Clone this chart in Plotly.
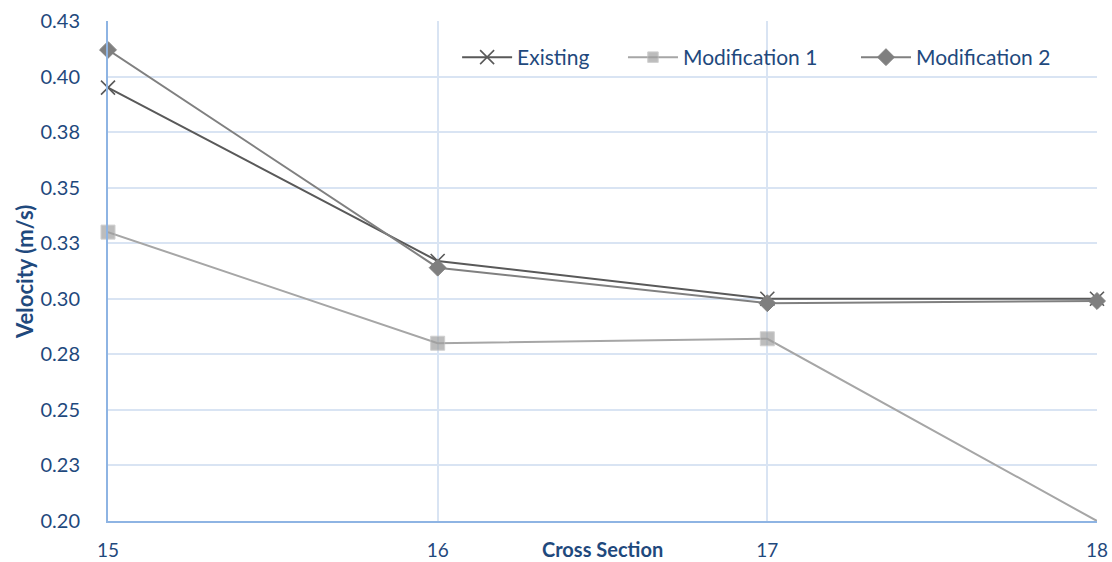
import plotly.graph_objects as go

# Cross sections along the channel
sections = [15, 16, 17, 18]

# Mean velocity (m/s) at each cross section
existing = [0.395, 0.317, 0.300, 0.300]
modification_1 = [0.330, 0.280, 0.282, 0.200]
modification_2 = [0.412, 0.314, 0.298, 0.299]

# Y-axis tick positions and their two-decimal labels
y_ticks = [0.200, 0.225, 0.250, 0.275, 0.300, 0.325, 0.350, 0.375, 0.400, 0.425]
y_tick_labels = ["0.20", "0.23", "0.25", "0.28", "0.30", "0.33", "0.35", "0.38", "0.40", "0.43"]

font_family = "Lato, 'Open Sans', sans-serif"
text_blue = "#1F497D"
axis_blue = "#8EB4E3"
grid_blue = "#D9E4F3"

fig = go.Figure()

fig.add_trace(go.Scatter(
    x=sections, y=existing, name="Existing", mode="lines+markers",
    line=dict(color="#595959", width=2), cliponaxis=False, legend="legend",
    marker=dict(symbol="x-thin", size=14, color="#595959",
                line=dict(color="#595959", width=1.6)),
))
fig.add_trace(go.Scatter(
    x=sections, y=modification_1, name="Modification 1", mode="lines+markers",
    line=dict(color="#A6A6A6", width=2), cliponaxis=False, legend="legend2",
    marker=dict(symbol="square", size=[14, 14, 14, 0], color="#A0A0A0",
                line=dict(color="#BDBDBD", width=1)),
))
fig.add_trace(go.Scatter(
    x=sections, y=modification_2, name="Modification 2", mode="lines+markers",
    line=dict(color="#808080", width=2), cliponaxis=False, legend="legend3",
    marker=dict(symbol="diamond", size=13, color="#7F7F7F",
                line=dict(color="#7F7F7F", width=1)),
))

legend_style = dict(
    orientation="h", y=0.968, xanchor="left", yanchor="top",
    bgcolor="rgba(0,0,0,0)", font=dict(size=21, color=text_blue, family=font_family),
    itemwidth=50,
)

fig.update_layout(
    width=1112, height=562,
    margin=dict(l=108, r=15, t=21, b=41, autoexpand=False),
    paper_bgcolor="white", plot_bgcolor="white",
    font=dict(family=font_family, color=text_blue, size=20),
    legend=dict(x=0.353, **legend_style),
    legend2=dict(x=0.5207, **legend_style),
    legend3=dict(x=0.7563, **legend_style),
    xaxis=dict(
        range=[15, 18], tickvals=sections, ticktext=[str(s) for s in sections],
        showgrid=True, gridcolor=grid_blue, gridwidth=1.5,
        showline=True, linecolor=axis_blue, linewidth=2,
        zeroline=False, ticks="", ticklabelstandoff=11, automargin=False,
        tickfont=dict(size=19, color=text_blue),
    ),
    yaxis=dict(
        range=[0.2, 0.425], tickvals=y_ticks, ticktext=y_tick_labels,
        showgrid=True, gridcolor=grid_blue, gridwidth=1.5,
        showline=True, linecolor=axis_blue, linewidth=2,
        zeroline=False, ticks="", ticklabelstandoff=22, automargin=False,
        tickfont=dict(size=20, color=text_blue),
    ),
    showlegend=True,
)

# Axis titles
fig.add_annotation(
    text="<b>Cross Section</b>", xref="paper", yref="paper",
    x=0.5, y=-0.056, xanchor="center", yanchor="middle", showarrow=False,
    font=dict(size=20, color=text_blue, family=font_family),
)
fig.add_annotation(
    text="<b>Velocity (m/s)</b>", xref="paper", yref="paper",
    x=-0.085, y=0.498, xanchor="center", yanchor="middle", showarrow=False,
    textangle=-90, font=dict(size=22, color=text_blue, family=font_family),
)

fig.write_html("out.html")
